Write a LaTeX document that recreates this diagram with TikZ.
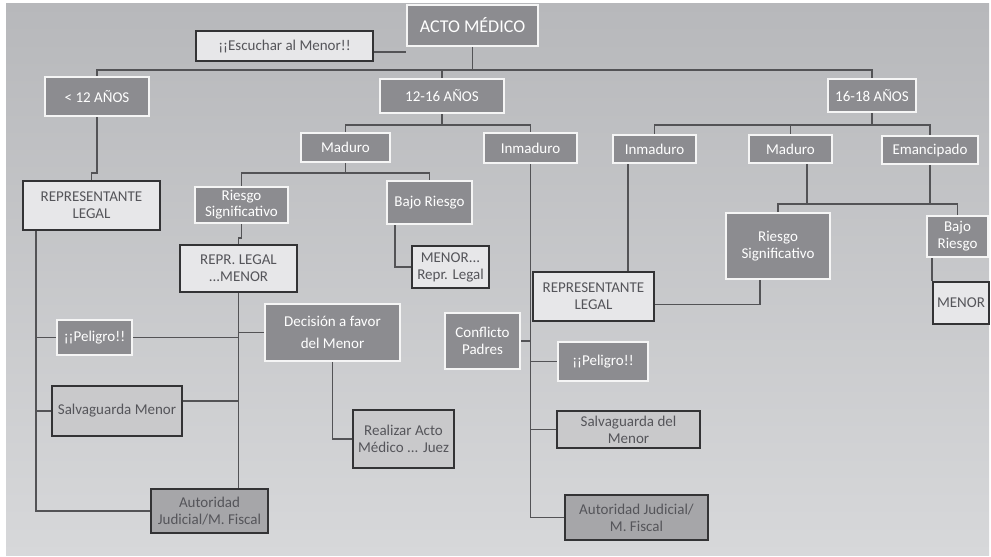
\documentclass[tikz,border=0pt]{standalone}
\usepackage{fontspec}
\setmainfont{Carlito}
\definecolor{dfill}{HTML}{8C8C90}
\definecolor{lfill}{HTML}{E7E7E9}
\definecolor{mfill}{HTML}{C9C9CB}
\definecolor{afill}{HTML}{A6A6A9}
\definecolor{bline}{HTML}{333335}
\definecolor{cline}{HTML}{535356}
\definecolor{tgray}{HTML}{55555A}
\definecolor{ptop}{HTML}{B7B8BB}
\definecolor{pbot}{HTML}{D7D8DA}
\pgfdeclarelayer{panel}
\pgfdeclarelayer{bg}
\pgfsetlayers{panel,bg,main}
\begin{document}
\begin{tikzpicture}[x=1pt,y=-1pt,
  base/.style={rectangle, inner sep=0pt, align=center, font=\fontsize{15}{17}\selectfont},
  darkbox/.style={base, fill=dfill, draw=white!96!black, line width=1.6pt, text=white},
  lightbox/.style={base, fill=lfill, draw=bline, line width=2.2pt, text=tgray},
  midbox/.style={base, fill=mfill, draw=bline, line width=2.2pt, text=tgray},
  autbox/.style={base, fill=afill, draw=bline, line width=2.2pt, text=tgray},
  conn/.style={draw=cline, line width=1.8pt}]
\useasboundingbox (0,0) rectangle (991,557);
\begin{pgfonlayer}{panel}
\fill[white] (0,0) rectangle (991,557);
\shade[top color=ptop, bottom color=pbot] (6,3) rectangle (989,555);
\end{pgfonlayer}

% top levels
\node[darkbox, minimum width=131pt, minimum height=41pt, font=\fontsize{18}{20}\selectfont] (acto) at (472.5,25.5) {ACTO MÉDICO};
\node[lightbox, minimum width=177pt, minimum height=30pt] (esc) at (284.5,46) {¡¡Escuchar al Menor!!};
\node[darkbox, minimum width=104pt, minimum height=39pt] (lt12) at (97,96.5) {< 12 AÑOS};
\node[darkbox, minimum width=124pt, minimum height=34pt] (a1216) at (442,96) {12-16 AÑOS};
\node[darkbox, minimum width=88pt, minimum height=33pt] (a1618) at (872,95.5) {16-18 AÑOS};
\node[darkbox, minimum width=89pt, minimum height=29pt] (mad1) at (345.5,147.5) {Maduro};
\node[darkbox, minimum width=93pt, minimum height=30pt] (inm1) at (530.5,148) {Inmaduro};
\node[darkbox, minimum width=83pt, minimum height=28pt] (inm2) at (654.5,149) {Inmaduro};
\node[darkbox, minimum width=83pt, minimum height=28pt] (mad2) at (790.5,149) {Maduro};
\node[darkbox, minimum width=96pt, minimum height=28pt] (eman) at (930,150) {Emancipado};

% < 12
\node[lightbox, minimum width=137pt, minimum height=49pt] (rl1) at (91.5,205.5) {REPRESENTANTE\\LEGAL};
\node[darkbox, minimum width=75pt, minimum height=35pt] (pel1) at (94.5,337.5) {¡¡Peligro!!};
\node[midbox, minimum width=130pt, minimum height=50pt] (salv1) at (117,411) {Salvaguarda Menor};
\node[autbox, minimum width=117pt, minimum height=44pt] (aut1) at (209.5,511) {Autoridad\\Judicial/M. Fiscal};

% 12-16 Maduro
\node[darkbox, minimum width=93pt, minimum height=36pt, font=\fontsize{15}{16}\selectfont] (rs1) at (241.5,205) {Riesgo\\Significativo};
\node[darkbox, minimum width=85pt, minimum height=43pt] (br1) at (429.5,202.5) {Bajo Riesgo};
\node[lightbox, minimum width=117pt, minimum height=47pt] (repr) at (238.5,268.5) {REPR. LEGAL\\...MENOR};
\node[lightbox, minimum width=77pt, minimum height=42pt] (menrl) at (450.5,267) {MENOR...\\Repr. Legal};
\node[darkbox, minimum width=135pt, minimum height=57pt, font=\fontsize{15}{22}\selectfont] (dec) at (332.5,332.5) {Decisión a favor\\del Menor};
\node[midbox, minimum width=101pt, minimum height=58pt] (real) at (403.5,439) {Realizar Acto\\Médico ... Juez};

% 12-16 Inmaduro
\node[darkbox, minimum width=75pt, minimum height=56pt] (conf) at (482.5,341) {Conflicto\\Padres};
\node[darkbox, minimum width=90pt, minimum height=39pt] (pel2) at (603,361.5) {¡¡Peligro!!};
\node[midbox, minimum width=143pt, minimum height=37pt] (salv2) at (628.5,429.5) {Salvaguarda del\\Menor};
\node[autbox, minimum width=143pt, minimum height=45pt] (aut2) at (636.5,517.5) {Autoridad Judicial/\\M. Fiscal};

% 16-18
\node[lightbox, minimum width=121pt, minimum height=49pt] (rl2) at (593.5,296.5) {REPRESENTANTE\\LEGAL};
\node[darkbox, minimum width=104pt, minimum height=66pt] (rs2) at (778,246) {Riesgo\\Significativo};
\node[darkbox, minimum width=61pt, minimum height=41pt] (br2) at (957.5,236.5) {Bajo\\Riesgo};
\node[lightbox, minimum width=56pt, minimum height=42pt] (menor) at (961,303) {MENOR};

\begin{pgfonlayer}{bg}
\coordinate (bus1) at (472.5,70);
\coordinate (bus2) at (442,125);
\coordinate (bus3) at (872,125);
\coordinate (bus4) at (345.5,173);
\coordinate (bus5) at (808,204);
\coordinate (sp1) at ([xshift=14pt]rl1.south west);

\draw[conn] ([yshift=-6pt]esc.east) -- ([yshift=-6pt]esc.east -| acto.west);
\draw[conn] (acto.south) -- (bus1);
\draw[conn] (lt12.north) |- (bus1) -| (a1618.north);
\draw[conn] (a1216.north) -- (a1216.north |- bus1);

\draw[conn] (a1216.south) -- (bus2);
\draw[conn] (mad1.north) |- (bus2) -| (inm1.north);
\draw[conn] (a1618.south) -- (bus3);
\draw[conn] (inm2.north) |- (bus3) -| (eman.north);
\draw[conn] (mad2.north) -- (mad2.north |- bus3);

% < 12 branch
\draw[conn] (lt12.south) -- ++(0,56) -| (rl1.north);
\draw[conn] (sp1) |- (aut1.west);
\draw[conn] (pel1.west) -- (pel1.west -| sp1);
\draw[conn] (salv1.west) -- (salv1.west -| sp1);

% 12-16 Maduro
\draw[conn] (mad1.south) -- (bus4);
\draw[conn] (rs1.north) |- (bus4) -| (br1.north);
\draw[conn] (rs1.south) -- ++(0,14) -| (repr.north);
\draw[conn] ([xshift=9pt]br1.south west) |- (menrl.west);
\draw[conn] (repr.south) -- (repr.south |- aut1.north);
\draw[conn] (dec.west) -- (dec.west -| repr.south);
\draw[conn] (pel1.east) -- (pel1.east -| repr.south);
\draw[conn] ([yshift=10pt]salv1.east) -- ([yshift=10pt]salv1.east -| repr.south);
\draw[conn] (dec.south) |- (real.west);

% 12-16 Inmaduro
\draw[conn] (inm1.south) |- (aut2.west);
\draw[conn] (conf.east) -- (conf.east -| inm1.south);
\draw[conn] (pel2.west) -- (pel2.west -| inm1.south);
\draw[conn] (salv2.west) -- (salv2.west -| inm1.south);

% 16-18
\draw[conn] ([xshift=16pt]inm2.south west) -- ([xshift=16pt]inm2.south west |- rl2.north);
\draw[conn] ([yshift=-8pt]rl2.east) -| ([xshift=35pt]rs2.south west);
\draw[conn] ([xshift=59pt]mad2.south west) -- ([xshift=59pt]mad2.south west |- bus5);
\draw[conn] (rs2.north) |- (bus5) -| (br2.north);
\draw[conn] (eman.south) -- (eman.south |- bus5);
\draw[conn] ([xshift=6pt]br2.south west) -- ([xshift=6pt]br2.south west |- menor.north);
\end{pgfonlayer}
\end{tikzpicture}
\end{document}
